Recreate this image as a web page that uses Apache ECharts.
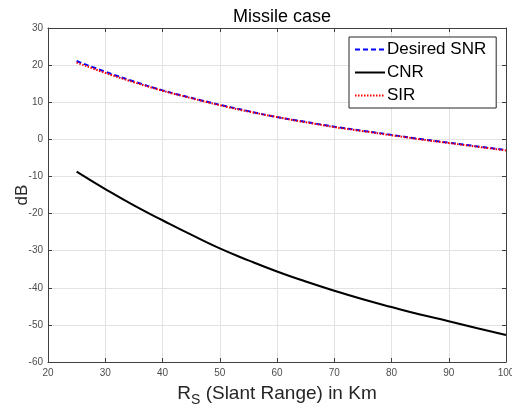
<!DOCTYPE html>
<html>
<head>
<meta charset="utf-8">
<script src="https://cdn.jsdelivr.net/npm/echarts@6/dist/echarts.min.js"></script>
<style>
    html, body { margin: 0; padding: 0; background: #fff; }
    #chart { width: 512px; height: 408px; }
</style>
</head>
<body>
<div id="chart"></div>
<script>
    // slant range in km
    const ranges = [25, 30, 35, 40, 45, 50, 55, 60, 65, 70, 75, 80, 85, 90, 95, 100];
    // values, dB
    const snrValues = [21.1, 18.2, 15.6, 13.2, 11.2, 9.3, 7.6, 6.0, 4.7, 3.4, 2.3, 1.2, 0.1, -0.9, -1.9, -2.9];
    const cnrValues = [-8.7, -13.4, -17.8, -21.8, -25.7, -29.4, -32.6, -35.6, -38.3, -40.8, -43.1, -45.2, -47.2, -49.0, -50.9, -52.7];
    const sirValues = [20.7, 17.9, 15.4, 13.1, 11.1, 9.2, 7.5, 6.0, 4.6, 3.3, 2.2, 1.1, 0.0, -1.0, -2.0, -3.0];

    const xTicks = [20, 30, 40, 50, 60, 70, 80, 90, 100];
    const yTicks = [-60, -50, -40, -30, -20, -10, 0, 10, 20, 30];

    function pairs(ys) {
        return ranges.map((x, i) => [x, ys[i]]);
    }

    const axisColor = '#404040';
    const font = 'Liberation Sans, Arial, sans-serif';

    const chart = echarts.init(document.getElementById('chart'));
    chart.setOption({
        animation: false,
        title: {
            text: 'Missile case',
            left: 277,
            textAlign: 'center',
            top: 3,
            textStyle: { fontFamily: font, fontSize: 18, fontWeight: 'normal', color: '#000' }
        },
        legend: {
            orient: 'vertical',
            left: 349,
            top: 37,
            itemWidth: 30,
            itemHeight: 14,
            itemGap: 6,
            padding: [4, 10, 4, 5],
            backgroundColor: '#fff',
            borderColor: '#262626',
            borderWidth: 1,
            borderRadius: 0,
            itemStyle: { opacity: 0 },
            textStyle: { fontFamily: font, fontSize: 17, color: '#000', padding: [0, 0, 0, -3] },
            data: ['Desired SNR', 'CNR', 'SIR']
        },
        grid: { left: 48, right: 6, top: 28, bottom: 46, containLabel: false, outerBoundsMode: 'none' },
        xAxis: [{
            type: 'value',
            min: xTicks[0],
            max: xTicks[xTicks.length - 1],
            interval: 10,
            name: '{r|R}{s|S}{r| (Slant Range) in Km}',
            nameLocation: 'middle',
            nameGap: 19,
            nameMoveOverlap: false,
            nameTextStyle: {
                verticalAlign: 'top',
                rich: {
                    r: { fontFamily: font, fontSize: 19, color: '#262626' },
                    s: { fontFamily: font, fontSize: 14, color: '#262626', padding: [12, 0, 0, 0] }
                }
            },
            axisLine: { onZero: false, lineStyle: { color: axisColor, width: 1 } },
            axisTick: { inside: true, length: 4, lineStyle: { color: axisColor } },
            axisLabel: { margin: 6, fontFamily: font, fontSize: 10, color: '#4d4d4d' },
            splitLine: { show: true, lineStyle: { color: '#e3e3e3', width: 1 } }
        }, {
            type: 'value',
            position: 'top',
            min: xTicks[0],
            max: xTicks[xTicks.length - 1],
            interval: 10,
            axisLine: { show: true, onZero: false, lineStyle: { color: axisColor, width: 1 } },
            axisTick: { show: true, inside: true, length: 4, lineStyle: { color: axisColor } },
            axisLabel: { show: false },
            splitLine: { show: false }
        }],
        yAxis: [{
            type: 'value',
            min: yTicks[0],
            max: yTicks[yTicks.length - 1],
            interval: 10,
            name: 'dB',
            nameLocation: 'middle',
            nameGap: 17,
            nameMoveOverlap: false,
            nameTextStyle: { fontFamily: font, fontSize: 17, color: '#262626' },
            axisLine: { show: true, onZero: false, lineStyle: { color: axisColor, width: 1 } },
            axisTick: { show: true, inside: true, length: 4, lineStyle: { color: axisColor } },
            axisLabel: { margin: 5, fontFamily: font, fontSize: 10, color: '#4d4d4d' },
            splitLine: { show: true, lineStyle: { color: '#e3e3e3', width: 1 } }
        }, {
            type: 'value',
            position: 'right',
            min: yTicks[0],
            max: yTicks[yTicks.length - 1],
            interval: 10,
            axisLine: { show: true, onZero: false, lineStyle: { color: axisColor, width: 1 } },
            axisTick: { show: true, inside: true, length: 4, lineStyle: { color: axisColor } },
            axisLabel: { show: false },
            splitLine: { show: false }
        }],
        series: [
            {
                name: 'Desired SNR',
                type: 'line',
                smooth: true,
                symbol: 'none',
                data: pairs(snrValues),
                color: '#0000ff',
                lineStyle: { color: '#0000ff', width: 2, type: [5, 3] }
            },
            {
                name: 'CNR',
                type: 'line',
                smooth: true,
                symbol: 'none',
                data: pairs(cnrValues),
                color: '#000',
                lineStyle: { color: '#000', width: 2 }
            },
            {
                name: 'SIR',
                type: 'line',
                smooth: true,
                symbol: 'none',
                data: pairs(sirValues),
                color: '#ff0000',
                lineStyle: { color: '#ff0000', width: 2, type: [1.5, 1.5] }
            }
        ]
    });
</script>
</body>
</html>
